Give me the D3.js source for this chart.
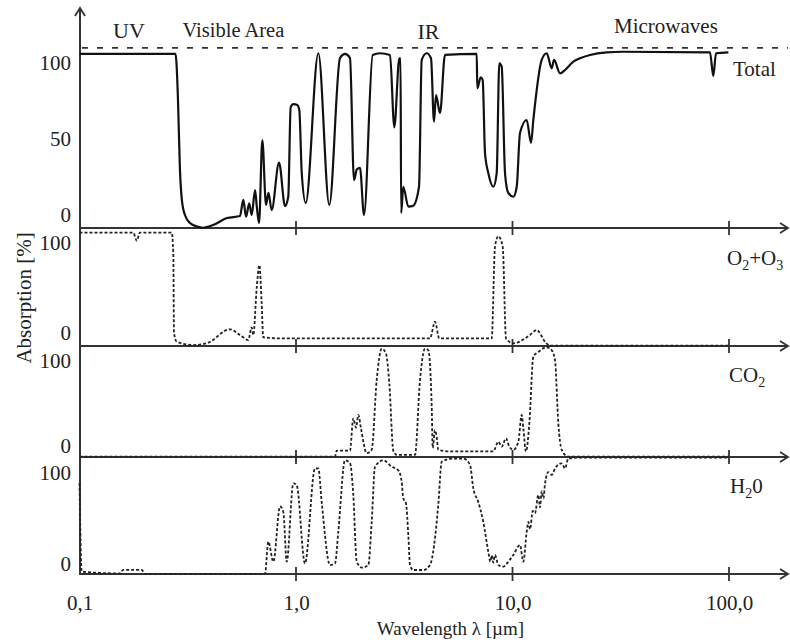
<!DOCTYPE html>
<html>
<head>
<meta charset="utf-8">
<script src="https://cdn.jsdelivr.net/npm/d3@7"></script>
<style>
  body { margin: 0; background: #fff; }
  text { font-family: "Liberation Serif", "Times New Roman", serif; fill: #222; }
</style>
</head>
<body>
<script>

const xTickValues = [0.1, 1, 10, 100];
const xTickLabels = ['0,1', '1,0', '10,0', '100,0'];
const yTicksTotal = [0, 50, 100];
const yTicksGas = [0, 100];
const regionNames = ['UV', 'Visible Area', 'IR', 'Microwaves'];
const seriesNames = [
    [['Total', 0]],
    [['O', 0], ['2', 1], ['+O', 0], ['3', 1]],
    [['CO', 0], ['2', 1]],
    [['H', 0], ['2', 1], ['0', 0]]
];
const totalRefLevel = 110;

// [wavelength in µm, absorption in %]
const totalAbs = [
    [0.1,106],[0.2776,106],[0.2805,100],[0.285,76],[0.291,30],[0.297,10],[0.307,0],
    [0.324,-5.3],[0.349,-7.6],[0.372,-8.4],[0.414,-6.6],[0.48,-2],[0.551,-0.7],
    [0.571,9.9],[0.588,-1.1],[0.608,7.7],[0.624,0],[0.647,16.4],[0.659,5.5],[0.675,-5.3],
    [0.699,49.3],[0.727,6.6],[0.746,14.5],[0.772,3.3],[0.835,34.4],[0.89,5.9],[0.921,12],
    [0.945,71],[0.972,73],[1.014,72.4],[1.036,69],[1.063,27.6],[1.109,7.9],[1.268,106.4],
    [1.425,6.6],[1.597,103.3],[1.684,106],[1.776,103.3],[1.853,23],[1.91,30],[1.975,31],
    [2.061,0],[2.261,105.3],[2.443,106.4],[2.718,105.3],[2.845,57.7],[3.0,103],[3.04,103],
    [3.06,1.3],[3.13,18.6],[3.302,5.5],[3.471,6],[3.7,18.6],[3.807,102],[4.015,106.4],
    [4.203,103.1],[4.339,61.4],[4.433,78.9],[4.625,67.1],[4.878,105.3],[6.834,106],
    [6.878,83.4],[7.13,90.6],[7.284,88.8],[7.464,40.8],[7.731,27.6],[8.151,18.6],[8.453,27.6],
    [8.69,99.8],[8.915,97.6],[9.234,27.6],[9.563,14.5],[10.09,12],[10.46,18.6],[10.83,53.9],
    [11.63,62.5],[12.18,47.4],[12.48,62.5],[13.64,102],[14.39,106.4],[15.18,96.5],[15.55,102],
    [16.58,93.2],[17.48,95.4],[19.1,100.9],[20.5,103.1],[22.8,105.3],[27.24,107],[32.39,107.4],
    [81.7,107],[84.6,91.4],[87.1,106.4],[99.3,107]
];

const o2o3Abs = [
    [0.1,111],[0.177,111],[0.184,102],[0.19,111],[0.2666,111],[0.2712,88],[0.2732,0],
    [0.2812,-9.6],[0.3354,-13.3],[0.387,-11.4],[0.496,4.1],[0.551,-2.2],[0.602,-7.7],
    [0.624,6.3],[0.635,-2.2],[0.659,51],[0.677,75],[0.694,33],[0.706,-4.8],[0.874,-6],
    [4.158,-6],[4.385,12.5],[4.591,-6],[8.013,-6],[8.302,95.4],[8.6,107],[9.01,95.4],
    [9.333,-6],[10.09,-11.4],[12.05,-2.2],[12.94,3.3],[14.13,-9.6],[14.9,-14],[100,-14]
];

const co2Abs = [
    [0.1,-13],[1.514,-13],[1.542,-6],[1.776,-6],[1.839,32],[1.893,21],[1.941,36],[1.996,20],
    [2.121,-9],[2.237,-5],[2.359,77],[2.488,114],[2.604,108],[2.698,73],[2.815,-6],[2.918,-11],
    [3.545,-11],[3.739,77],[3.943,114],[4.085,112],[4.235,46],[4.28,-3],[4.385,18],[4.465,10],
    [4.542,-5],[5.144,-7],[8.151,-7],[8.6,4.5],[8.915,-1.4],[9.333,8.5],[9.665,-1.4],[10.09,-5],
    [10.64,4.5],[11.03,36],[11.22,20],[11.54,-7],[11.96,26],[12.48,104.5],[13.16,110],
    [14.39,115.5],[15.18,112],[15.72,100],[16.28,26],[16.88,-5],[18.1,-13],[100,-13]
];

const h2oAbs = [
    [0.1,89],[0.1024,-9],[0.154,-11],[0.159,-7],[0.194,-7],[0.2006,-11.6],[0.719,-11.6],
    [0.745,24],[0.786,2],[0.844,63],[0.874,57],[0.906,2],[0.972,88.6],[1.007,86.7],[1.1,0],
    [1.224,105],[1.268,105],[1.314,68],[1.436,-1.7],[1.514,0],[1.568,35],[1.684,114],[1.776,111],
    [1.839,76],[1.907,2],[2.012,-4.6],[2.158,-1.7],[2.237,46],[2.317,107],[2.531,114],[2.767,107],
    [2.969,103],[3.078,90],[3.13,72],[3.221,66.5],[3.302,31.5],[3.362,-1.7],[3.482,-7.2],
    [3.873,-7.2],[4.158,-1.7],[4.542,64.6],[4.71,112.5],[5.329,116],[5.926,116],[6.365,109],
    [6.592,83],[6.95,68],[7.33,46],[7.731,13],[7.9,2],[8.013,9],[8.15,1],[8.302,9.4],[8.6,-1.7],
    [9.069,-3.5],[9.563,2],[10.09,9.4],[10.83,20.4],[11.22,2],[11.63,35],[11.85,46],[12.05,38],
    [12.4,58],[12.7,55.5],[13.16,75.7],[13.4,62],[13.64,80],[13.9,72],[14.13,88],[14.64,101],
    [15.18,98],[15.72,105],[16.88,110.7],[17.48,105],[18.1,116],[20.5,117],[100,117]
];


function draw () {
    const width  = 790;
    const height = 643;
    const axisLeftX = 80;
    const axisRightX = 788;
    const axisTopY = 8;

    const svg = d3.select('body').append('svg')
        .attr('width', width)
        .attr('height', height)
        .style('background-color', '#fff');

    const X = d3.scaleLog()
        .domain([0.1, 100])
        .range([79.5, 729]);

    const panels = [
        { data: totalAbs, base: 228, Y: d3.scaleLinear().domain([0, 100]).range([215, 63]),
          ticks: yTicksTotal, solid: true, labelX: 733, labelY: 76 },
        { data: o2o3Abs, base: 346, Y: d3.scaleLinear().domain([0, 100]).range([333, 242.5]),
          ticks: yTicksGas, labelX: 727, labelY: 265 },
        { data: co2Abs, base: 457, Y: d3.scaleLinear().domain([0, 100]).range([445.5, 360.5]),
          ticks: yTicksGas, labelX: 729, labelY: 382 },
        { data: h2oAbs, base: 574, Y: d3.scaleLinear().domain([0, 100]).range([563.5, 473]),
          ticks: yTicksGas, labelX: 730, labelY: 493 }
    ];

    const axisColor = '#333';

    // vertical axis with arrow on top
    svg.append('line')
        .attr('x1', axisLeftX).attr('x2', axisLeftX)
        .attr('y1', axisTopY).attr('y2', panels[3].base + 1)
        .attr('stroke', axisColor).attr('stroke-width', 2);
    svg.append('path')
        .attr('d', `M${axisLeftX - 5},${axisTopY + 8} L${axisLeftX},${axisTopY} L${axisLeftX + 5},${axisTopY + 8}`)
        .attr('fill', 'none').attr('stroke', axisColor).attr('stroke-width', 1.8);

    // reference line above the total curve
    const yRef = panels[0].Y(totalRefLevel);
    svg.append('line')
        .attr('x1', axisLeftX + 2).attr('x2', axisRightX)
        .attr('y1', yRef).attr('y2', yRef)
        .attr('stroke', '#333').attr('stroke-width', 1.7)
        .attr('stroke-dasharray', '6,9');

    panels.forEach((p, i) => {
        // horizontal axis with arrow
        svg.append('line')
            .attr('x1', axisLeftX).attr('x2', axisRightX)
            .attr('y1', p.base).attr('y2', p.base)
            .attr('stroke', axisColor).attr('stroke-width', 2);
        svg.append('path')
            .attr('d', `M${axisRightX - 8},${p.base - 5} L${axisRightX},${p.base} L${axisRightX - 8},${p.base + 5}`)
            .attr('fill', 'none').attr('stroke', axisColor).attr('stroke-width', 1.8);

        svg.append('g')
            .selectAll('line')
            .data(xTickValues.slice(1))
            .join('line')
            .attr('x1', d => X(d)).attr('x2', d => X(d))
            .attr('y1', p.base - 7).attr('y2', p.base + 7)
            .attr('stroke', axisColor).attr('stroke-width', 1.8);

        // y labels
        svg.append('g')
            .attr('transform', `translate(${axisLeftX} 0)`)
            .call(d3.axisLeft(p.Y).tickValues(p.ticks).tickSize(0).tickPadding(9))
            .call(g => g.select('.domain').remove())
            .attr('font-size', 21);

        const line = d3.line()
            .x(d => X(d[0]))
            .y(d => p.Y(d[1]))
            .curve(d3.curveMonotoneX);

        const path = svg.append('path')
            .attr('d', line(p.data))
            .attr('fill', 'none')
            .attr('stroke-linejoin', 'round');
        if (p.solid) {
            path.attr('stroke', '#111').attr('stroke-width', 2.2);
        } else {
            path.attr('stroke', '#222').attr('stroke-width', 1.8).attr('stroke-dasharray', '3,2');
        }

        // series name with subscripts
        const t = svg.append('text')
            .attr('x', p.labelX).attr('y', p.labelY)
            .attr('font-size', 21);
        let wasSub = false;
        seriesNames[i].forEach(([txt, sub]) => {
            const dy = sub && !wasSub ? 5 : (!sub && wasSub ? -5 : 0);
            t.append('tspan')
                .attr('dy', dy)
                .attr('font-size', sub ? 14 : 21)
                .text(txt);
            wasSub = !!sub;
        });
    });

    // x labels
    svg.append('g')
        .attr('transform', `translate(0 ${panels[3].base})`)
        .call(d3.axisBottom(X).tickValues(xTickValues).tickFormat((d, i) => xTickLabels[i]).tickSize(0).tickPadding(21))
        .call(g => g.select('.domain').remove())
        .attr('font-size', 21);

    // spectral regions
    const regionLayout = [
        { x: 129, y: 38, size: 22, anchor: 'middle' },
        { x: 182.5, y: 36.5, size: 20.5, anchor: 'start' },
        { x: 428.5, y: 39, size: 22, anchor: 'middle' },
        { x: 614, y: 33, size: 21, anchor: 'start' }
    ];
    regionNames.forEach((name, i) => {
        const r = regionLayout[i];
        svg.append('text')
            .attr('x', r.x).attr('y', r.y)
            .attr('font-size', r.size)
            .attr('text-anchor', r.anchor)
            .text(name);
    });

    svg.append('text')
        .attr('transform', 'translate(31 298) rotate(-90)')
        .attr('text-anchor', 'middle')
        .attr('font-size', 21)
        .text('Absorption [%]');

    svg.append('text')
        .attr('x', 450.5).attr('y', 635)
        .attr('text-anchor', 'middle')
        .attr('font-size', 19)
        .text('Wavelength λ [µm]');
}


draw();
</script>
</body>
</html>
